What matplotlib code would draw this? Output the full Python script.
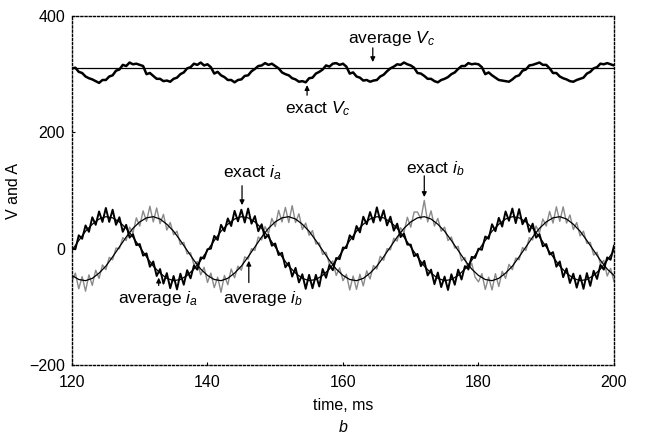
import numpy as np
import matplotlib.pyplot as plt

plt.rcParams['font.family'] = ['Liberation Sans', 'DejaVu Sans']
plt.rcParams['mathtext.fontset'] = 'custom'
plt.rcParams['mathtext.rm'] = 'Liberation Sans'
plt.rcParams['mathtext.it'] = 'Liberation Sans:italic'

# время, мс
t_avg = np.arange(120, 201, 1.0)
t_exact = np.arange(120, 200.5, 0.5)

# средние токи (шаг 1 мс)
ia_avg = [-3, 14, 30, 42, 51, 55, 53, 46, 35, 20, 3, -14, -30, -42, -51, -55, -53, -46, -35, -20,
          -3, 14, 30, 42, 51, 55, 53, 46, 35, 20, 3, -14, -30, -42, -51, -55, -53, -46, -35, -20,
          -3, 14, 30, 42, 51, 55, 53, 46, 35, 20, 3, -14, -30, -42, -51, -55, -53, -46, -35, -20,
          -3, 14, 30, 42, 51, 55, 53, 46, 35, 20, 3, -14, -30, -42, -51, -55, -53, -46, -35, -20,
          -3]
ib_avg = [-46, -53, -55, -51, -42, -30, -14, 3, 20, 35, 46, 53, 55, 51, 42, 30, 14, -3, -20, -35,
          -46, -53, -55, -51, -42, -30, -14, 3, 20, 35, 46, 53, 55, 51, 42, 30, 14, -3, -20, -35,
          -46, -53, -55, -51, -42, -30, -14, 3, 20, 35, 46, 53, 55, 51, 42, 30, 14, -3, -20, -35,
          -46, -53, -55, -51, -42, -30, -14, 3, 20, 35, 46, 53, 55, 51, 42, 30, 14, -3, -20, -35,
          -46]
vc_avg = [310, 310]

# точные значения (шаг 0.5 мс)
ia_exact = [1, -1, 23, 17, 40, 29, 54, 41, 64, 46, 70, 46, 67, 41, 54, 29, 41, 19, 25, 6,
            8, -12, -8, -31, -22, -47, -35, -60, -42, -68, -47, -70, -43, -62, -37, -51, -29, -36, -15, -17,
            -1, 0, 22, 15, 41, 30, 52, 39, 65, 47, 67, 45, 69, 43, 56, 30, 42, 18, 24, 5,
            9, -11, -7, -32, -24, -48, -33, -58, -44, -69, -45, -68, -45, -65, -35, -50, -28, -37, -16, -18,
            2, 1, 23, 16, 39, 28, 55, 42, 63, 45, 71, 48, 66, 40, 55, 31, 43, 20, 26, 7,
            7, -13, -9, -30, -21, -46, -36, -61, -41, -66, -48, -71, -44, -62, -36, -53, -30, -35, -14, -16,
            0, -2, 21, 17, 42, 30, 53, 38, 64, 48, 69, 44, 68, 42, 53, 29, 43, 19, 25, 4,
            8, -10, -6, -31, -22, -49, -34, -59, -43, -67, -46, -69, -42, -64, -38, -52, -28, -36, -15, -19,
            5]
ib_exact = [-56, -42, -69, -48, -73, -45, -63, -37, -51, -28, -36, -15, -19, 1, 0, 19, 14, 37, 27, 53,
            39, 65, 47, 73, 46, 70, 43, 59, 32, 45, 24, 30, 7, 11, -9, -7, -28, -22, -45, -32,
            -58, -42, -67, -49, -75, -46, -62, -35, -50, -30, -37, -14, -18, 0, -3, 20, 15, 38, 26, 52,
            38, 66, 46, 71, 45, 74, 45, 60, 33, 44, 23, 31, 8, 10, -10, -6, -27, -21, -46, -33,
            -55, -44, -71, -47, -70, -44, -64, -38, -52, -29, -35, -13, -20, 0, -2, 18, 13, 36, 28, 54,
            37, 63, 63, 51, 83, 46, 65, 39, 52, 30, 37, 14, 20, 1, 4, -21, -15, -37, -25, -49,
            -57, -43, -70, -49, -71, -43, -65, -39, -51, -27, -36, -16, -19, 2, -3, 19, 15, 39, 27, 51,
            39, 64, 44, 72, 47, 72, 44, 58, 33, 45, 22, 30, 9, 11, -11, -6, -26, -20, -47, -34,
            -56]
vc_exact = [310, 311, 304, 302, 296, 293, 291, 288, 285, 290, 290, 296, 298, 306, 308, 316, 314, 320, 317, 318,
            316, 314, 300, 302, 297, 292, 292, 288, 289, 287, 292, 294, 300, 303, 310, 312, 318, 316, 320, 315,
            317, 312, 301, 304, 298, 295, 290, 290, 286, 290, 291, 297, 298, 305, 309, 314, 315, 319, 316, 318,
            314, 310, 303, 300, 298, 293, 291, 287, 288, 286, 293, 294, 301, 304, 308, 315, 313, 318, 319, 316,
            318, 313, 301, 303, 296, 294, 289, 290, 287, 289, 290, 296, 299, 305, 310, 313, 317, 316, 320, 317,
            315, 311, 302, 301, 297, 292, 292, 288, 286, 290, 292, 295, 300, 303, 309, 314, 314, 319, 317, 318,
            317, 312, 300, 303, 298, 294, 290, 289, 288, 287, 291, 296, 298, 306, 308, 315, 316, 318, 320, 316,
            316, 310, 302, 302, 296, 293, 291, 288, 287, 290, 292, 294, 301, 304, 310, 312, 318, 317, 319, 317,
            315]

fig = plt.figure(figsize=(6.45, 4.36), dpi=100)
ax = fig.add_axes([0.1116, 0.1628, 0.8403, 0.8005])

ax.plot(t_exact, ib_exact, color='#8a8a8a', lw=1.0)
ax.plot(t_exact, ia_exact, color='black', lw=1.4)
ax.plot(t_avg, ia_avg, color='black', lw=0.9)
ax.plot(t_avg, ib_avg, color='black', lw=0.9)
ax.plot([120, 200], vc_avg, color='black', lw=0.9)
ax.plot(t_exact, vc_exact, color='black', lw=1.8)

ax.set_xlim(120, 200)
ax.set_ylim(-200, 400)
ax.set_xticks([120, 140, 160, 180, 200])
ax.set_yticks([-200, 0, 200, 400])
ax.tick_params(direction='in', length=2, labelsize=11.5)
ax.tick_params(axis='x', pad=7)
ax.tick_params(axis='y', pad=5)
for s in ax.spines.values():
    s.set_linestyle((0, (1.5, 1.5)))
    s.set_linewidth(1.0)

fs = 12.5
ax.set_ylabel('V and A', fontsize=11.5, labelpad=6)
ax.set_xlabel('time, ms', fontsize=11.5, labelpad=6)
fig.text(0.532, 0.01, 'b', fontsize=11.5, style='italic', ha='center')

arr = dict(arrowstyle='-|>', color='black', lw=0.9, mutation_scale=7)
ax.text(167.2, 362, 'average $V_c$', ha='center', va='center', fontsize=fs)
ax.annotate('', xy=(164.4, 316), xytext=(164.4, 350), arrowprops=arr)
ax.text(156.3, 240, 'exact $V_c$', ha='center', va='center', fontsize=fs)
ax.annotate('', xy=(154.7, 286), xytext=(154.7, 259), arrowprops=arr)
ax.text(146.6, 130, 'exact $i_a$', ha='center', va='center', fontsize=fs)
ax.annotate('', xy=(145.1, 70), xytext=(145.1, 113), arrowprops=arr)
ax.text(173.7, 138, 'exact $i_b$', ha='center', va='center', fontsize=fs)
ax.annotate('', xy=(172.0, 84), xytext=(172.0, 130), arrowprops=arr)
ax.text(132.7, -85, 'average $i_a$', ha='center', va='center', fontsize=fs)
ax.annotate('', xy=(132.8, -45), xytext=(132.8, -68), arrowprops=arr)
ax.text(148.2, -85, 'average $i_b$', ha='center', va='center', fontsize=fs)
ax.annotate('', xy=(146.1, -16), xytext=(146.1, -63), arrowprops=arr)

fig.savefig('out.png', dpi=100)
